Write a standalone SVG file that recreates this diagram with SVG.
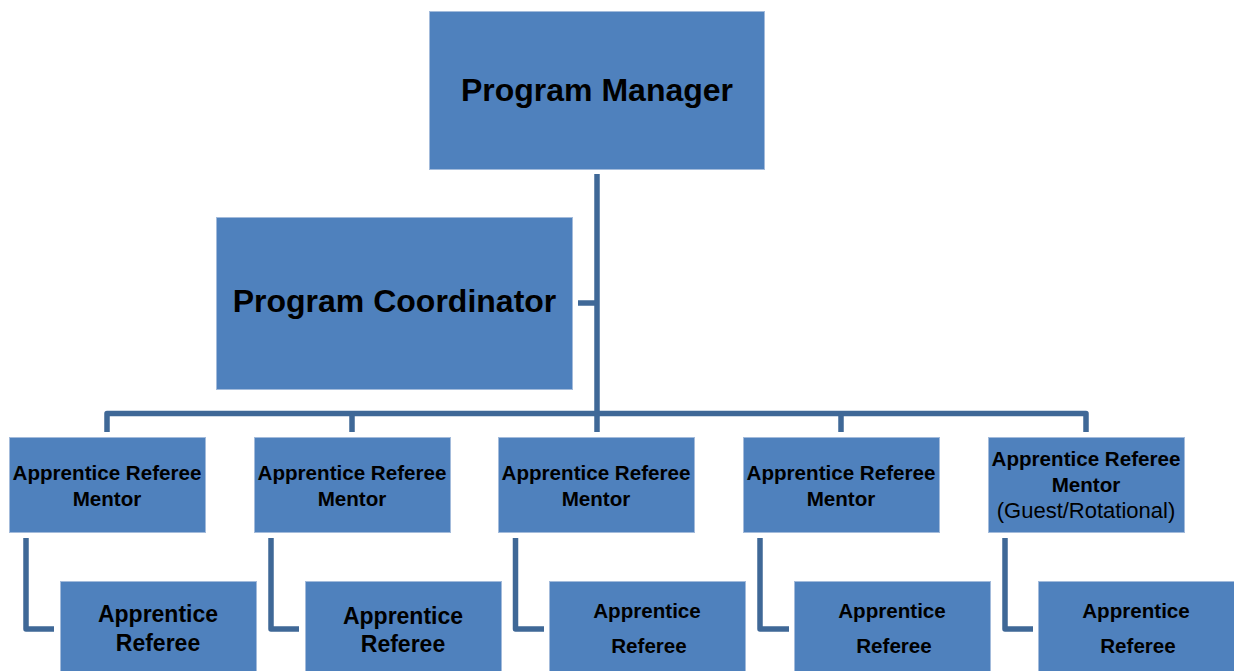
<svg xmlns="http://www.w3.org/2000/svg" width="1234" height="671" viewBox="0 0 1234 671">
<style>
.box{fill:#4f81bd;stroke:#a3bbdb;stroke-width:1}
.conn{fill:none;stroke:#3f6897;stroke-width:5.5;stroke-linejoin:round}
.t{font-family:"Liberation Sans",Arial,sans-serif;font-weight:bold;fill:#000;text-anchor:middle}
.big{font-size:32px}
.mid{font-size:20.6px}
.ch1{font-size:23px}
.reg{font-weight:normal;font-size:22px}
</style>
<rect width="1234" height="671" fill="#fff"/>
<g id="connectors">
<path class="conn" d="M597 174V432"/>
<path class="conn" d="M578 303H597"/>
<path class="conn" d="M107 432V413.5H1086V432"/>
<path class="conn" d="M352 413.5V432M841 413.5V432"/>
<path class="conn" d="M26 538V629H54"/>
<path class="conn" d="M271 538V629H299"/>
<path class="conn" d="M515.5 538V629H544"/>
<path class="conn" d="M760 538V629H789"/>
<path class="conn" d="M1005 538V629H1033"/>
</g>
<g id="program-manager">
<rect class="box" x="429.5" y="11.5" width="335" height="158"/>
<text class="t big" x="597" y="101">Program Manager</text>
</g>
<g id="program-coordinator">
<rect class="box" x="216.5" y="217.5" width="356" height="172"/>
<text class="t big" x="394.5" y="312">Program Coordinator</text>
</g>
<g id="mentor-1">
<rect class="box" x="9.5" y="437.5" width="196" height="95"/>
<text class="t mid" x="107" y="480">Apprentice Referee</text>
<text class="t mid" x="107" y="506">Mentor</text>
</g>
<g id="mentor-2">
<rect class="box" x="254.5" y="437.5" width="196" height="95"/>
<text class="t mid" x="352" y="480">Apprentice Referee</text>
<text class="t mid" x="352" y="506">Mentor</text>
</g>
<g id="mentor-3">
<rect class="box" x="498.5" y="437.5" width="196" height="95"/>
<text class="t mid" x="596" y="480">Apprentice Referee</text>
<text class="t mid" x="596" y="506">Mentor</text>
</g>
<g id="mentor-4">
<rect class="box" x="743.5" y="437.5" width="196" height="95"/>
<text class="t mid" x="841" y="480">Apprentice Referee</text>
<text class="t mid" x="841" y="506">Mentor</text>
</g>
<g id="mentor-5">
<rect class="box" x="988.5" y="437.5" width="196" height="95"/>
<text class="t mid" x="1086" y="466">Apprentice Referee</text>
<text class="t mid" x="1086" y="492">Mentor</text>
<text class="t reg" x="1086" y="518">(Guest/Rotational)</text>
</g>
<g id="referee-1">
<rect class="box" x="60.5" y="581.5" width="196" height="120"/>
<text class="t ch1" x="158" y="622">Apprentice</text>
<text class="t ch1" x="158" y="651">Referee</text>
</g>
<g id="referee-2">
<rect class="box" x="305.5" y="581.5" width="196" height="120"/>
<text class="t ch1" x="403" y="624">Apprentice</text>
<text class="t ch1" x="403" y="652">Referee</text>
</g>
<g id="referee-3">
<rect class="box" x="549.5" y="581.5" width="196" height="120"/>
<text class="t mid" x="647" y="618">Apprentice</text>
<text class="t mid" x="649" y="653">Referee</text>
</g>
<g id="referee-4">
<rect class="box" x="794.5" y="581.5" width="196" height="120"/>
<text class="t mid" x="892" y="618">Apprentice</text>
<text class="t mid" x="894" y="653">Referee</text>
</g>
<g id="referee-5">
<rect class="box" x="1038.5" y="581.5" width="196" height="120"/>
<text class="t mid" x="1136" y="618">Apprentice</text>
<text class="t mid" x="1138" y="653">Referee</text>
</g>
</svg>
